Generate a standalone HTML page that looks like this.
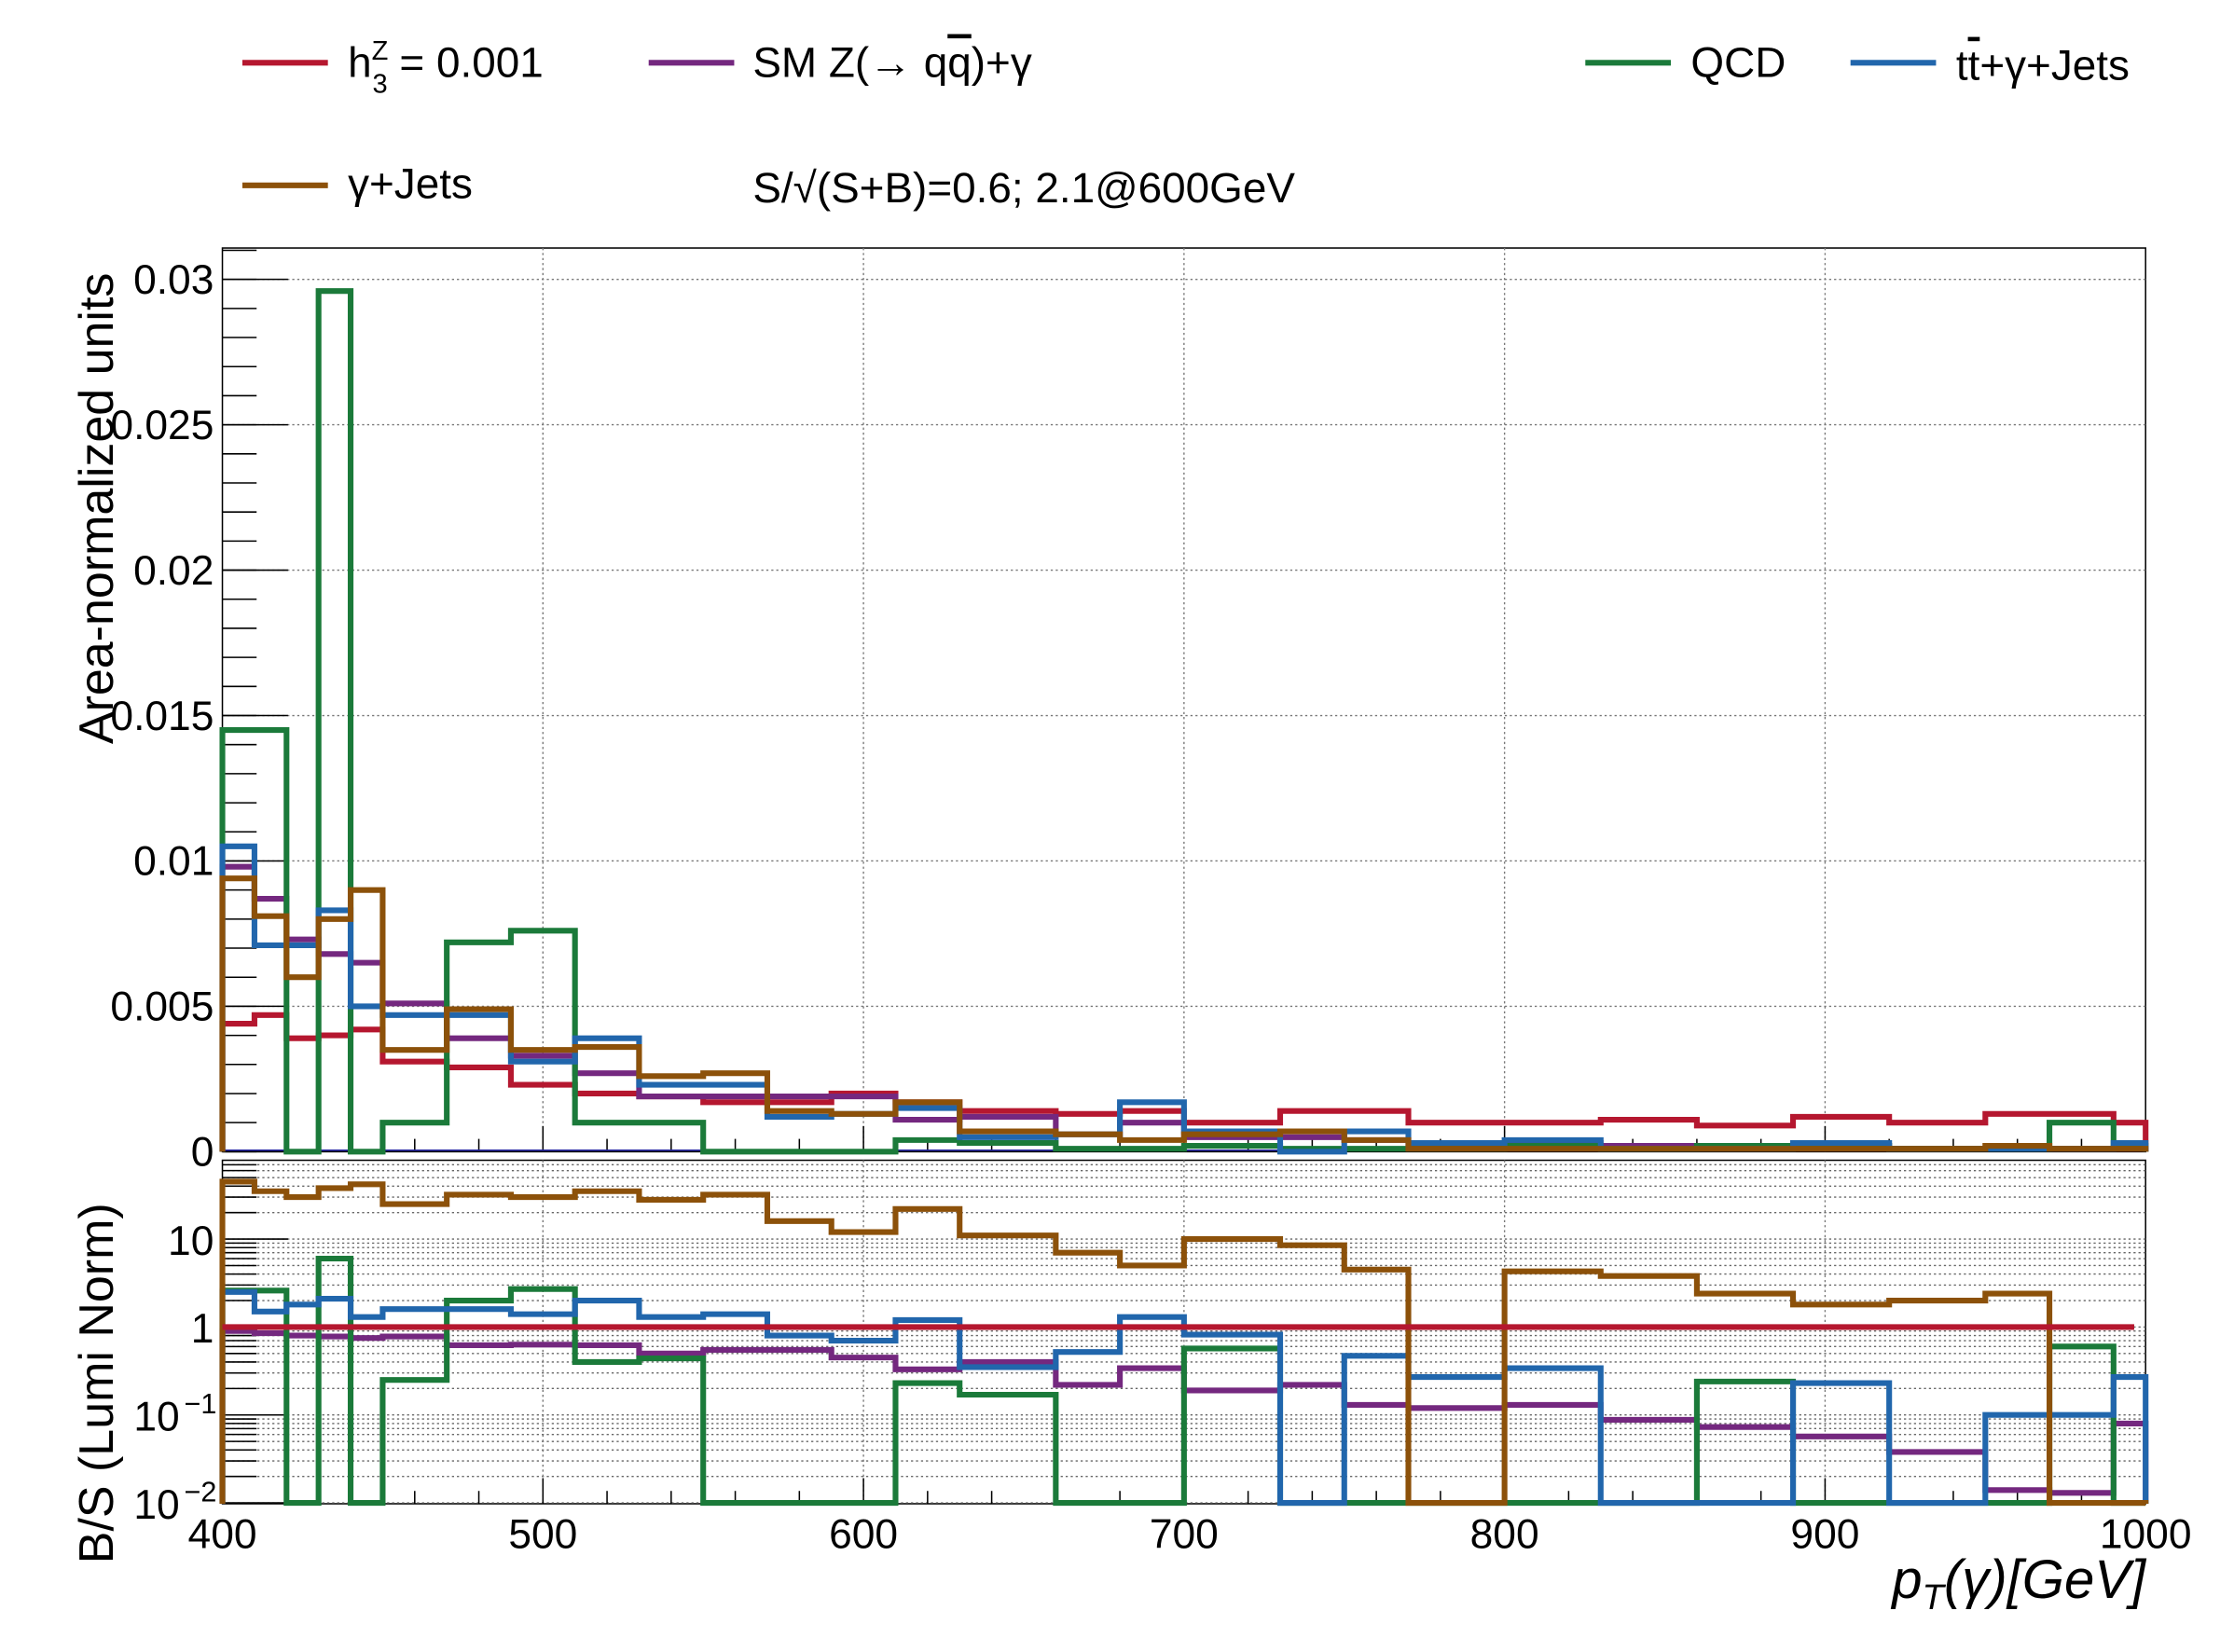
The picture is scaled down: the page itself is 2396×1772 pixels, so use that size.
<!DOCTYPE html>
<html><head><meta charset="utf-8"><style>
html,body{margin:0;padding:0;background:#fff}
svg{display:block;font-family:"Liberation Sans",sans-serif}
</style></head><body>
<svg id="chart" xmlns="http://www.w3.org/2000/svg" width="2396" height="1772" viewBox="0 0 1567 1159" preserveAspectRatio="none">
<g id="legend">
 <g><line x1="170" y1="44" x2="230" y2="44" stroke="#b5172f" stroke-width="4"/><text x="244" y="54" font-size="30">h<tspan font-size="19" dy="-12">Z</tspan><tspan font-size="19" dx="-11" dy="23">3</tspan><tspan dy="-11"> = 0.001</tspan></text></g>
 <g><line x1="455" y1="44" x2="515" y2="44" stroke="#74287f" stroke-width="4"/><text x="528" y="54" font-size="30">SM Z(→ q<tspan text-decoration="overline">q</tspan>)+γ</text></g>
 <g><line x1="1112" y1="44" x2="1172" y2="44" stroke="#1b7a3a" stroke-width="4"/><text x="1186" y="54" font-size="30">QCD</text></g>
 <g><line x1="1298" y1="44" x2="1358" y2="44" stroke="#2166ac" stroke-width="4"/><text x="1372" y="56" font-size="30">t<tspan text-decoration="overline">t</tspan>+γ+Jets</text></g>
 <g><line x1="170" y1="130" x2="230" y2="130" stroke="#8c510a" stroke-width="4"/><text x="244" y="139" font-size="30">γ+Jets</text></g>
 <text x="528" y="142" font-size="30">S/√(S+B)=0.6; 2.1@600GeV</text>
</g>
<g id="topPanel"></g>
<g id="botPanel"></g>
<text transform="translate(79,522) rotate(-90)" font-size="34">Area-normalized units</text>
<text transform="translate(79,1097) rotate(-90)" font-size="34">B/S (Lumi Norm)</text>
<text x="1505" y="1121" font-size="38" font-style="italic" text-anchor="end">p<tspan font-size="25" dy="8">T</tspan><tspan dy="-8">(γ)[GeV]</tspan></text>
</svg>
<script>
const edges=[400,410,420,430,440,450,470,490,510,530,550,570,590,610,630,660,680,700,730,750,770,800,830,860,890,920,950,970,990,1000];
const xTicks=[400,500,600,700,800,900,1000];
const yTicks=[0,0.005,0.01,0.015,0.02,0.025,0.03];
const yTickLabels=["0","0.005","0.01","0.015","0.02","0.025","0.03"];
const redTop=[0.0044,0.0047,0.0039,0.004,0.0042,0.0031,0.0029,0.0023,0.002,0.0019,0.0017,0.0017,0.002,0.0017,0.0014,0.0013,0.0014,0.001,0.0014,0.0014,0.001,0.001,0.0011,0.0009,0.0012,0.001,0.0013,0.0013,0.001];
const purpleTop=[0.0098,0.0087,0.0073,0.0068,0.0065,0.0051,0.0039,0.0033,0.0027,0.0019,0.0019,0.0019,0.0019,0.0011,0.0012,0.0006,0.001,0.0005,0.0005,0.0004,0.0002,0.0003,0.0002,0.0002,0.0002,0.0001,0.0001,0.0001,0.0001];
const greenTop=[0.0145,0.0145,0,0.0296,0,0.001,0.0072,0.0076,0.001,0.001,0,0,0,0.0004,0.0003,0.0001,0.0001,0.0002,0.0001,0.0001,0.0001,0.0002,0.0001,0.0002,0.0002,0.0001,0.0001,0.001,0.0002];
const blueTop=[0.0105,0.0071,0.0071,0.0083,0.005,0.0047,0.0047,0.0031,0.0039,0.0023,0.0023,0.0012,0.0013,0.0015,0.0005,0.0006,0.0017,0.0007,0,0.0007,0.0003,0.0004,0.0001,0.0001,0.0003,0.0001,0.0001,0.0001,0.0003];
const brownTop=[0.0094,0.0081,0.006,0.008,0.009,0.0035,0.0049,0.0035,0.0036,0.0026,0.0027,0.0014,0.0013,0.0017,0.0007,0.0006,0.0004,0.0006,0.0007,0.0004,0.0001,0.0001,0.0001,0.0001,0.0001,0.0001,0.0002,0.0001,0.0001];
const redRatio=[1,1,1,1,1,1,1,1,1,1,1,1,1,1,1,1,1,1,1,1,1,1,1,1,1,1,1,1,1];
const purpleRatio=[0.9,0.85,0.8,0.78,0.75,0.78,0.62,0.63,0.62,0.5,0.55,0.55,0.45,0.33,0.4,0.22,0.34,0.19,0.22,0.13,0.12,0.13,0.088,0.073,0.057,0.038,0.014,0.013,0.08];
const greenRatio=[2.6,2.6,0.01,6,0.01,0.25,2.0,2.7,0.4,0.44,0.01,0.01,0.01,0.23,0.17,0.01,0.01,0.57,0.01,0.01,0.01,0.01,0.01,0.24,0.01,0.01,0.01,0.6,0.01];
const blueRatio=[2.5,1.5,1.8,2.1,1.3,1.6,1.6,1.4,2.0,1.3,1.4,0.8,0.7,1.2,0.35,0.52,1.3,0.82,0.01,0.47,0.27,0.34,0.01,0.01,0.23,0.01,0.1,0.1,0.27];
const brownRatio=[45,35,30,38,42,25,32,30,35,28,32,16,12,22,11,7,5,10,8.5,4.5,0.01,4.3,3.8,2.4,1.8,2.0,2.4,0.01,0.01];

const NS="http://www.w3.org/2000/svg";
const L=156,R=1505,T1=174,B1=808,T2=814,B2=1055;
const xs=v=>L+(v-400)/600*(R-L);
const yTop=v=>B1-v/0.03*(B1-196);
const yBot=v=>{const lv=Math.log10(Math.max(v,0.01));return 931-lv*61.7;};
function el(tag,attrs,parent){const e=document.createElementNS(NS,tag);for(const k in attrs)e.setAttribute(k,attrs[k]);parent.appendChild(e);return e;}
const topG=document.getElementById('topPanel'),botG=document.getElementById('botPanel');

const f1=el('rect',{x:L,y:T1,width:R-L,height:B1-T1,fill:'none',stroke:'#000','stroke-width':1},topG);


yTicks.forEach((t,i)=>{
  const y=yTop(t);
  if(t>0){const g=el('line',{x1:L,x2:R,y1:y,y2:y,stroke:'#777','stroke-width':0.9,'stroke-dasharray':'1.5 2'},topG);
  
  }
  el('line',{x1:L,x2:L+46,y1:y,y2:y,stroke:'#000','stroke-width':1},topG);
  const tx=el('text',{x:L-6,y:y+10,'font-size':29,'text-anchor':'end'},topG);
  tx.textContent=yTickLabels[i];
  
  
});
for(let k=0;k<=31;k++){const y=yTop(k*0.001);if(y<T1)break;el('line',{x1:L,x2:L+24,y1:y,y2:y,stroke:'#000','stroke-width':1},topG);}
function xgrid(parent,T,B,name){
  xTicks.forEach(t=>{const x=xs(t);
    if(t>400&&t<1000){const g=el('line',{x1:x,x2:x,y1:T,y2:B,stroke:'#777','stroke-width':0.9,'stroke-dasharray':'1.5 2'},parent);
    
    }
    el('line',{x1:x,x2:x,y1:B,y2:B-18,stroke:'#000','stroke-width':1},parent);});
  for(let v=420;v<1000;v+=20){if(v%100===0)continue;const x=xs(v);el('line',{x1:x,x2:x,y1:B,y2:B-9,stroke:'#000','stroke-width':1},parent);}
}
xgrid(topG,T1,B1,'top-v-gridline');

function hist(parent,vals,fy,color,name,base){
  let d='M'+xs(edges[0])+','+base;
  vals.forEach((v,i)=>{const y=fy(v);d+=' L'+xs(edges[i])+','+y+' L'+xs(edges[i+1])+','+y;});
  d+=' L'+xs(edges[edges.length-1])+','+base;
  const p=el('path',{d:d,fill:'none',stroke:color,'stroke-width':4,'stroke-linejoin':'miter'},parent);
  
  
}
el('line',{x1:L,x2:R,y1:B1-1,y2:B1-1,stroke:'#2020a0','stroke-width':1},topG);
hist(topG,redTop,yTop,'#b5172f','series-h3z-top',B1);
hist(topG,purpleTop,yTop,'#74287f','series-sm-top',B1);
hist(topG,greenTop,yTop,'#1b7a3a','series-qcd-top',B1);
hist(topG,blueTop,yTop,'#2166ac','series-ttgamma-top',B1);
hist(topG,brownTop,yTop,'#8c510a','series-gammajets-top',B1);

const f2=el('rect',{x:L,y:T2,width:R-L,height:B2-T2,fill:'none',stroke:'#000','stroke-width':1},botG);


for(let e=-2;e<=1;e++){for(let m=1;m<=9;m++){const v=m*Math.pow(10,e);const y=yBot(v);if(y<T2)break;
  if(y<B2-0.5){const g=el('line',{x1:L,x2:R,y1:y,y2:y,stroke:'#666','stroke-width':0.9,'stroke-dasharray':'1.5 2'},botG);
  
  }
  el('line',{x1:L,x2:L+(m===1?46:24),y1:y,y2:y,stroke:'#000','stroke-width':1},botG);}}
const rl=[[0.01,'10','−2'],[0.1,'10','−1'],[1,'1',''],[10,'10','']];
rl.forEach(r=>{const y=yBot(r[0]);const t=el('text',{x:L-(r[2]?30:6),y:y+11,'font-size':29,'text-anchor':'end'},botG);
  t.textContent=r[1];
  
  
  if(r[2]){const s=el('text',{x:L-4,y:y-1,'font-size':20,'text-anchor':'end'},botG);s.textContent=r[2];}});
xgrid(botG,T2,B2,'ratio-v-gridline');
xTicks.forEach(t=>{const tx=el('text',{x:xs(t),y:1086,'font-size':29,'text-anchor':'middle'},botG);
  tx.textContent=String(t);
  
  });
hist(botG,purpleRatio,yBot,'#74287f','series-sm-ratio',B2);
hist(botG,greenRatio,yBot,'#1b7a3a','series-qcd-ratio',B2);
hist(botG,blueRatio,yBot,'#2166ac','series-ttgamma-ratio',B2);
hist(botG,brownRatio,yBot,'#8c510a','series-gammajets-ratio',B2);
const ry=yBot(redRatio[0]);
const rline=el('line',{x1:L,x2:1497,y1:ry,y2:ry,stroke:'#b5172f','stroke-width':4},botG);


</script>
</body></html>
